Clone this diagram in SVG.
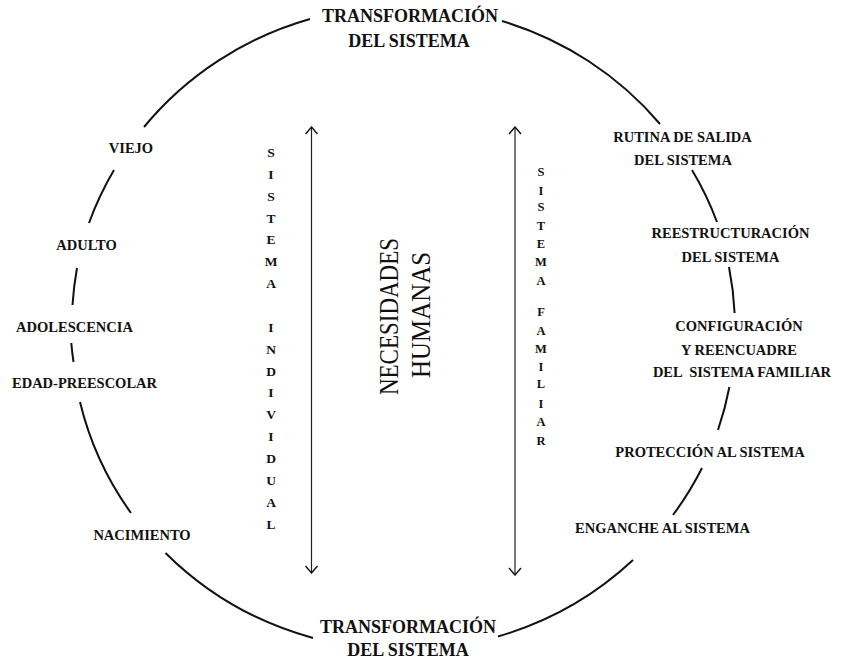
<svg xmlns="http://www.w3.org/2000/svg" width="842" height="662" viewBox="0 0 842 662">
<style>
.t{font-family:"Liberation Serif","Times New Roman",serif;font-weight:bold;fill:#111;text-anchor:middle}
.big{font-size:18px}
.lab{font-size:14.5px}
.v1{font-size:13.5px}
.v2{font-size:12.5px}
.nh{font-family:"Liberation Serif","Times New Roman",serif;font-size:28px;fill:#111;text-anchor:middle}
.arc{fill:none;stroke:#111;stroke-width:2}
.ax{fill:none;stroke:#222;stroke-width:1.2}
</style>
<defs>
<marker id="hd" viewBox="0 0 10 14" refX="9" refY="7" markerWidth="10" markerHeight="14" markerUnits="userSpaceOnUse" orient="auto-start-reverse">
<path d="M2,1 L9,7 L2,13" fill="none" stroke="#111" stroke-width="1.4"/>
</marker>
</defs>
<rect width="842" height="662" fill="#fff"/>
<g id="connectors">
<path class="arc" d="M502,21 A332,322 0 0 1 660,124"/>
<path class="arc" d="M692,170 A332,322 0 0 1 717,222"/>
<path class="arc" d="M729,267 A332,322 0 0 1 734.6,313"/>
<path class="arc" d="M729.4,387 A332,322 0 0 1 718,430"/>
<path class="arc" d="M702,468 A332,322 0 0 1 673,515"/>
<path class="arc" d="M633,560 A332,322 0 0 1 498,636.5"/>
<path class="arc" d="M313,638 A332,322 0 0 1 165.5,553"/>
<path class="arc" d="M131,513 A332,322 0 0 1 80,402"/>
<path class="arc" d="M73.5,362 A332,322 0 0 1 71.3,343"/>
<path class="arc" d="M72.5,305 A332,322 0 0 1 77,268"/>
<path class="arc" d="M89,223 A332,322 0 0 1 114,170"/>
<path class="arc" d="M144,127 A332,322 0 0 1 310,19"/>
<line class="ax" x1="311.5" y1="127" x2="311.5" y2="573" marker-start="url(#hd)" marker-end="url(#hd)"/>
<line class="ax" x1="515" y1="127" x2="515" y2="575" marker-start="url(#hd)" marker-end="url(#hd)"/>
</g>
<g id="transformacion-top">
<text class="t big" x="410" y="22">TRANSFORMACIÓN</text>
<text class="t big" x="409" y="47">DEL SISTEMA</text>
</g>
<g id="transformacion-bottom">
<text class="t big" x="408" y="633">TRANSFORMACIÓN</text>
<text class="t big" x="408" y="656">DEL SISTEMA</text>
</g>
<g id="viejo"><text class="t lab" x="131" y="153">VIEJO</text></g>
<g id="adulto"><text class="t lab" x="86.5" y="250">ADULTO</text></g>
<g id="adolescencia"><text class="t lab" x="74.5" y="332">ADOLESCENCIA</text></g>
<g id="edad-preescolar"><text class="t lab" x="84.5" y="388">EDAD-PREESCOLAR</text></g>
<g id="nacimiento"><text class="t lab" x="142" y="540">NACIMIENTO</text></g>
<g id="rutina">
<text class="t lab" x="682.5" y="142">RUTINA DE SALIDA</text>
<text class="t lab" x="683" y="165">DEL SISTEMA</text>
</g>
<g id="reestructuracion">
<text class="t lab" x="730.5" y="238">REESTRUCTURACIÓN</text>
<text class="t lab" x="730.5" y="262">DEL SISTEMA</text>
</g>
<g id="configuracion">
<text class="t lab" x="739" y="331">CONFIGURACIÓN</text>
<text class="t lab" x="739" y="355">Y REENCUADRE</text>
<text class="t lab" x="742" y="377" style="white-space:pre">DEL  SISTEMA FAMILIAR</text>
</g>
<g id="proteccion"><text class="t lab" x="710" y="457">PROTECCIÓN AL SISTEMA</text></g>
<g id="enganche"><text class="t lab" x="662.5" y="533">ENGANCHE AL SISTEMA</text></g>
<g id="sistema-individual">
<text class="t v1" x="271" y="157">S</text>
<text class="t v1" x="271" y="178.9">I</text>
<text class="t v1" x="271" y="200.7">S</text>
<text class="t v1" x="271" y="222.6">T</text>
<text class="t v1" x="271" y="244.4">E</text>
<text class="t v1" x="271" y="266.3">M</text>
<text class="t v1" x="271" y="288.2">A</text>
<text class="t v1" x="271" y="331.9">I</text>
<text class="t v1" x="271" y="353.7">N</text>
<text class="t v1" x="271" y="375.6">D</text>
<text class="t v1" x="271" y="397.4">I</text>
<text class="t v1" x="271" y="419.3">V</text>
<text class="t v1" x="271" y="441.2">I</text>
<text class="t v1" x="271" y="463">D</text>
<text class="t v1" x="271" y="484.9">U</text>
<text class="t v1" x="271" y="506.7">A</text>
<text class="t v1" x="271" y="528.6">L</text>
</g>
<g id="sistema-familiar">
<text class="t v2" x="541" y="176">S</text>
<text class="t v2" x="541" y="194.5">I</text>
<text class="t v2" x="541" y="211">S</text>
<text class="t v2" x="541" y="229.5">T</text>
<text class="t v2" x="541" y="248">E</text>
<text class="t v2" x="541" y="266">M</text>
<text class="t v2" x="541" y="284.5">A</text>
<text class="t v2" x="541" y="316">F</text>
<text class="t v2" x="541" y="334.5">A</text>
<text class="t v2" x="541" y="353">M</text>
<text class="t v2" x="541" y="371">I</text>
<text class="t v2" x="541" y="388">L</text>
<text class="t v2" x="541" y="408">I</text>
<text class="t v2" x="541" y="426">A</text>
<text class="t v2" x="541" y="444.5">R</text>
</g>
<g id="necesidades-humanas">
<text class="nh" transform="translate(398,316.5) rotate(-90)" textLength="157" lengthAdjust="spacingAndGlyphs">NECESIDADES</text>
<text class="nh" transform="translate(430,315) rotate(-90)" textLength="126" lengthAdjust="spacingAndGlyphs">HUMANAS</text>
</g>
</svg>
